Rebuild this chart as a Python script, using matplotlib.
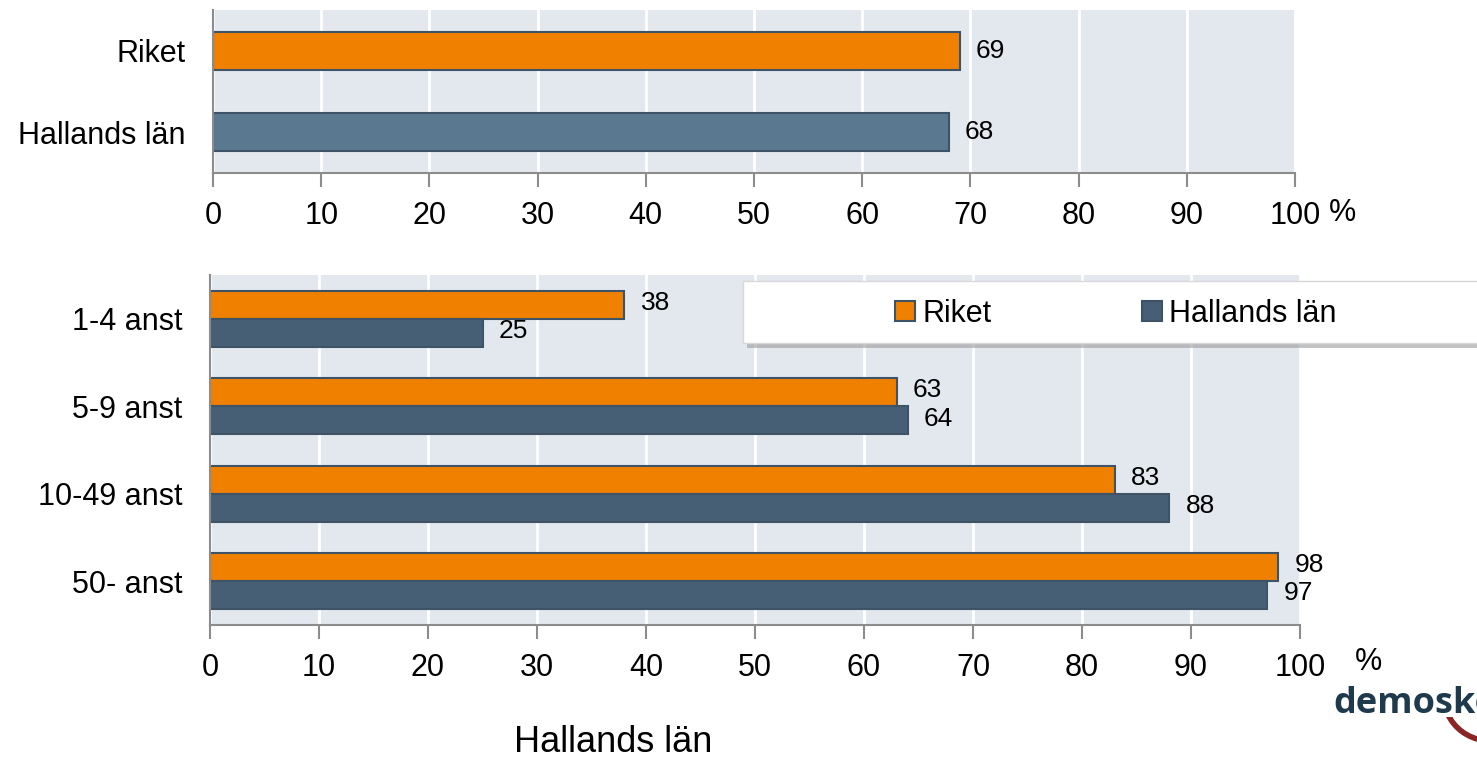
import matplotlib.pyplot as plt
from matplotlib.patches import Arc, Rectangle
import numpy as np

plt.rcParams['font.family'] = ['Liberation Sans', 'DejaVu Sans']

top_labels = ["Riket", "Hallands län"]
top_values = [69, 68]

groups = ["1-4 anst", "5-9 anst", "10-49 anst", "50- anst"]
riket = [38, 63, 83, 98]
halland = [25, 64, 88, 97]

ticks = list(range(0, 101, 10))

ORANGE = "#f08000"
BLUE_TOP = "#5a7890"
BLUE = "#465f74"
EDGE = "#3e5366"
BG = "#e3e8ef"
AXC = "#8c8c8c"

W, H = 1477, 757


def fx(px):
    return px / W


def fy(py):
    return 1 - py / H


def style(ax):
    ax.set_facecolor(BG)
    ax.set_xlim(0, 100)
    ax.set_xticks(ticks)
    ax.set_xticklabels([str(t) for t in ticks], fontsize=22)
    ax.grid(axis="x", color="white", lw=2)
    ax.set_axisbelow(True)
    for s in ["top", "right"]:
        ax.spines[s].set_visible(False)
    for s in ["left", "bottom"]:
        ax.spines[s].set_color(AXC)
        ax.spines[s].set_linewidth(1.5)
    ax.tick_params(axis="x", direction="out", length=10, width=1.5, color=AXC, pad=10)
    ax.tick_params(axis="y", length=0, labelsize=22, pad=20)


fig = plt.figure(figsize=(W / 100, H / 100), dpi=100)

# top chart
ax1 = fig.add_axes([fx(213), fy(173), 1082 / W, 163 / H])
ypos = np.arange(len(top_labels))[::-1]
ax1.barh(ypos, top_values, height=0.47, color=[ORANGE, BLUE_TOP], edgecolor=EDGE, lw=1.5)
for y, v in zip(ypos, top_values):
    ax1.text(v + 1.5, y, str(v), va="center", ha="left", fontsize=19)
ax1.set_yticks(ypos)
ax1.set_yticklabels(top_labels)
ax1.set_ylim(-0.5, 1.5)
style(ax1)
fig.text(fx(1343), fy(213), "%", fontsize=22, ha="center", va="center")

# bottom chart
ax2 = fig.add_axes([fx(210), fy(625), 1090 / W, 350 / H])
yb = np.arange(len(groups))[::-1]
h = 0.32
ax2.barh(yb + h / 2, riket, height=h, color=ORANGE, edgecolor=EDGE, lw=1.5, label="Riket")
ax2.barh(yb - h / 2, halland, height=h, color=BLUE, edgecolor=EDGE, lw=1.5, label="Hallands län")
for y, v in zip(yb, riket):
    ax2.text(v + 1.5, y + h / 2 + 0.02, str(v), va="center", ha="left", fontsize=19)
for y, v in zip(yb, halland):
    ax2.text(v + 1.5, y - h / 2 + 0.02, str(v), va="center", ha="left", fontsize=19)
ax2.set_yticks(yb)
ax2.set_yticklabels(groups)
ax2.set_ylim(-0.5, 3.5)
style(ax2)
fig.text(fx(1368), fy(662), "%", fontsize=22, ha="center", va="center")

# legend box (runs past the right edge like the reference)
shadow = Rectangle((fx(747), fy(348)), 800 / W, 62 / H, transform=fig.transFigure,
                   facecolor="#9a9a9a", edgecolor="none", alpha=0.6, zorder=5)
box = Rectangle((fx(743), fy(343)), 800 / W, 62 / H, transform=fig.transFigure,
                facecolor="white", edgecolor="#d8d8d8", lw=1, zorder=6)
fig.add_artist(shadow)
fig.add_artist(box)
handles, labels = ax2.get_legend_handles_labels()
leg = fig.legend(handles, labels, loc="center", bbox_to_anchor=(fx(1116), fy(314)),
                 ncol=2, fontsize=22, frameon=False,
                 handlelength=0.65, handleheight=0.65, handletextpad=0.25,
                 columnspacing=4.9)
leg.set_zorder(7)

fig.text(fx(613), fy(742), "Hallands län", fontsize=26, ha="center", va="center")

# logo (cut at the right edge as in the reference)
fig.text(fx(1333), fy(704), "demoskop", fontsize=26, fontweight="bold",
         color="#1f3a4d", ha="left", va="center", family=["Open Sans", "DejaVu Sans"])
logo_ax = fig.add_axes([fx(1430), 0, 47 / W, 40 / H])
logo_ax.axis("off")
logo_ax.set_xlim(0, 1)
logo_ax.set_ylim(0, 1)
logo_ax.add_patch(Arc((1.3, 1.5), 2.0, 2.2, theta1=205, theta2=262, color="#8b2525", lw=4))

fig.savefig("out.png", dpi=100)
